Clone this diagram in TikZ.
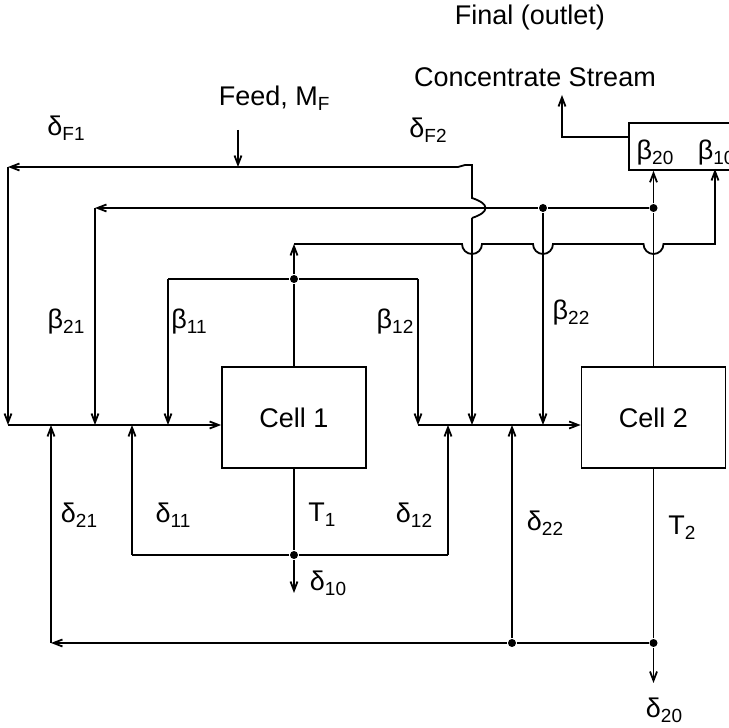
\documentclass[tikz,border=0pt]{standalone}
\usepackage{fontspec}
\setmainfont{Liberation Sans}
\usetikzlibrary{arrows.meta, calc}

\newcommand{\idx}[1]{\raisebox{-5pt}{\fontsize{19}{19}\selectfont #1}}

\begin{document}
\begin{tikzpicture}[x=1pt, y=1pt, >={Straight Barb[length=9pt,width=7pt]},
  line width=1.8pt, font=\fontsize{27}{32}\selectfont,
  cell/.style={draw, minimum width=144pt, minimum height=101pt, inner sep=0pt},
  dot/.style={circle, fill, inner sep=0pt, minimum size=8pt},
  lbl/.style={inner sep=0pt}]
\useasboundingbox (0,0) rectangle (729,728);

% --- Celle ---
\node[cell] (cell1) at (294,310.5) {Cell 1};
\node[cell] (cell2) at (653.5,310.5) {Cell 2};
\node[draw, anchor=north west, minimum width=140pt, minimum height=47pt] (outbox) at (628,606) {};

% --- Punti di giunzione ---
\coordinate (in1) at (8,303);
\coordinate (in2) at (418,303);
\coordinate (feed) at (238,561);
\coordinate (fL) at (8,561);
\coordinate (fR) at (472,563);
\node[dot] (top1) at (294,449) {};
\coordinate (up1) at (294,484);
\node[dot] (top2) at (653.5,520) {};
\node[dot] (top22) at (543,520) {};
\coordinate (b21) at (95,520);
\node[dot] (bot1) at (294,173) {};
\node[dot] (bot2) at (653.5,85) {};
\node[dot] (bot22) at (512,85) {};
\coordinate (d21) at (51,85);
\coordinate (outl) at (562,591);

% --- Linee di ingresso alle celle ---
\draw[->] (in1) -- (in1 -| cell1.west);
\draw[->] (in2) -- (in2 -| cell2.west);

% --- Alimentazione ---
\draw[->] (238,598) -- (feed);
\draw[->] (feed) -- (fL);
\draw[->] (fL) -- (in1);
\draw (feed) -- (458,561) -- (465,563) -- (fR) -- (472,530)
  .. controls (490,524) and (490,516) .. (472,510);
\draw[->] (472,510) -- (472,303);

% --- Uscite superiori ---
\draw (cell1.north) -- (top1);
\draw[->] (top1) -- (up1);
\draw[->] (up1) -- (462,484) arc[start angle=180, end angle=360, radius=10]
  -- (533,484) arc[start angle=180, end angle=360, radius=10]
  -- (643.5,484) arc[start angle=180, end angle=360, radius=10]
  -- (715,484) -- (715,559);
\draw (top1) -- (168,449);
\draw[->] (168,449) -- (168,303);
\draw (top1) -- (418,449);
\draw[->] (418,449) -- (in2);

\draw (cell2.north) -- (top2);
\draw[->] (top2) -- (top2 |- outbox.south);
\draw (top2) -- (top22);
\draw[->] (top22) -- (b21);
\draw[->] (b21) -- (95,303);
\draw[->] (top22) -- (543,303);

% --- Uscite inferiori ---
\draw (cell1.south) -- (bot1);
\draw[->] (bot1) -- (294,135);
\draw (bot1) -- (132,173);
\draw[->] (132,173) -- (132,303);
\draw (bot1) -- (448,173);
\draw[->] (448,173) -- (448,303);

\draw (cell2.south) -- (bot2);
\draw[->] (bot2) -- (653.5,45);
\draw (bot2) -- (bot22);
\draw[->] (bot22) -- (512,303);
\draw[->] (bot22) -- (d21);
\draw[->] (d21) -- (51,303);

% --- Uscita finale ---
\draw[->] (outbox.west |- outl) -- (outl) -- (562,633);

% --- Etichette ---
\node[lbl] at (530,710) {Final (outlet)};
\node[lbl] at (535,651) {Concentrate Stream};
\node[lbl, anchor=west] at (218,630) {Feed, M\idx{F}};
\node[lbl] at (66,600) {δ\idx{F1}};
\node[lbl] at (428,598) {δ\idx{F2}};
\node[lbl] at (655,575) {β\idx{20}};
\node[lbl, anchor=west] at (697,575) {β\idx{10}};
\node[lbl] at (66,406) {β\idx{21}};
\node[lbl] at (189,406) {β\idx{11}};
\node[lbl] at (395,406) {β\idx{12}};
\node[lbl] at (571,415) {β\idx{22}};
\node[lbl] at (79,213) {δ\idx{21}};
\node[lbl] at (173,213) {δ\idx{11}};
\node[lbl] at (322,213) {T\idx{1}};
\node[lbl] at (414,213) {δ\idx{12}};
\node[lbl] at (545,205) {δ\idx{22}};
\node[lbl] at (682,200) {T\idx{2}};
\node[lbl] at (328,145) {δ\idx{10}};
\node[lbl] at (664,18) {δ\idx{20}};

\end{tikzpicture}
\end{document}
